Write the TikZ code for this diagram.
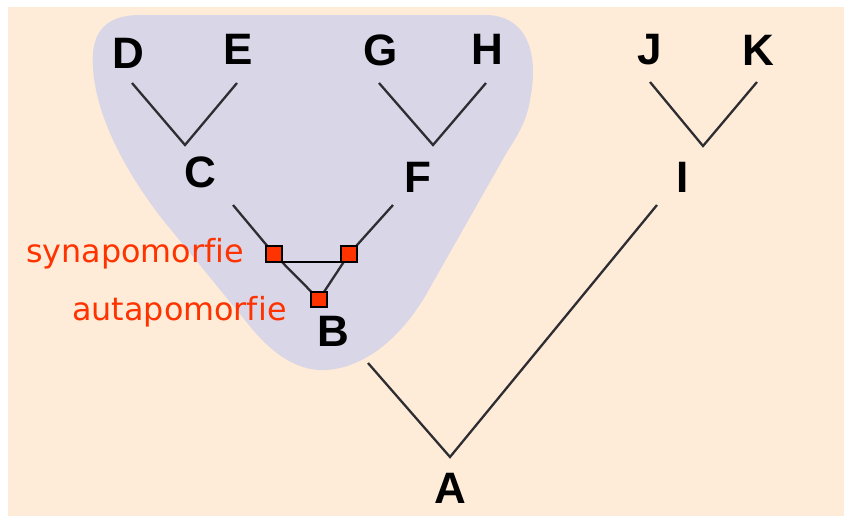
\documentclass[tikz,border=0pt]{standalone}
\usepackage{fontspec}
\setmainfont{Liberation Sans}
\newfontfamily\labelfont[Ligatures=NoCommon]{DejaVu Sans}
\definecolor{paper}{RGB}{254,236,216}
\definecolor{clade}{RGB}{217,214,231}
\definecolor{trait}{RGB}{255,51,0}
\definecolor{branch}{RGB}{45,45,50}
\begin{document}
\begin{tikzpicture}[x=1pt,y=-1pt,
  taxon/.style={inner sep=0pt,font=\fontsize{44}{48}\selectfont\bfseries},
  edge/.style={draw=branch,line width=2.3pt},
  marker/.style={draw=black,line width=1.6pt,fill=trait,minimum size=15.5pt,inner sep=0pt},
  traitlabel/.style={inner sep=0pt,anchor=base west,text=trait,font=\labelfont\fontsize{31.8}{34}\selectfont}]
  \useasboundingbox (0,0) rectangle (844,515);
  % paper and the shaded clade
  \fill[white] (0,0) rectangle (844,515);
  \fill[paper] (8,7) rectangle (850,520);
  \fill[clade] (140,15) -- (485,15)
    .. controls (525,15) and (540,50) .. (530,100)
    .. controls (527,120) and (518,135) .. (507,152)
    -- (427,293)
    .. controls (400,340) and (360,372) .. (318,370)
    .. controls (292,368) and (270,350) .. (253,330)
    -- (163,220)
    .. controls (120,165) and (95,110) .. (93,67)
    .. controls (90,28) and (110,15) .. (140,15) -- cycle;

  % taxon labels
  \node[taxon] (D) at (128,53) {D};
  \node[taxon] (E) at (238,49) {E};
  \node[taxon] (G) at (381,50) {G};
  \node[taxon] (H) at (487,49) {H};
  \node[taxon] (C) at (200,172) {C};
  \node[taxon] (F) at (418,177) {F};
  \node[taxon] (B) at (333,331) {B};
  \node[taxon] (J) at (650,50) {J};
  \node[taxon] (K) at (758,50) {K};
  \node[taxon] (I) at (683,177) {I};
  \node[taxon] (A) at (450,488) {A};

  % branch ends and forks
  \coordinate (dC) at (132,83);  \coordinate (eC) at (237,83);  \coordinate (vC) at (185,145);
  \coordinate (gF) at (379,83);  \coordinate (hF) at (486,83);  \coordinate (vF) at (433,145);
  \coordinate (jI) at (650,82);  \coordinate (kI) at (757,82);  \coordinate (vI) at (703,146);
  \coordinate (cB) at (233,205); \coordinate (fB) at (393,205);
  \coordinate (bA) at (368,363); \coordinate (iA) at (657,205); \coordinate (vA) at (450,457);

  % character state markers and the bar joining the two shared ones
  \coordinate (m1) at (274,254);
  \coordinate (m2) at (349,254);
  \coordinate (m3) at (319,299.5);
  \coordinate (bar1) at (274,261.5);
  \coordinate (bar2) at (349,261.5);

  \draw[edge] (dC) -- (vC) -- (eC);
  \draw[edge] (gF) -- (vF) -- (hF);
  \draw[edge] (jI) -- (vI) -- (kI);
  \draw[edge] (bA) -- (vA) -- (iA);
  \draw[edge] (cB) -- (m1) -- (m3);
  \draw[edge] (fB) -- (m2) -- (m3);
  \draw[black,line width=2pt] (bar1) -- (bar2);

  \node[marker] (s1) at (m1) {};
  \node[marker] (s2) at (m2) {};
  \node[marker] (s3) at (m3) {};

  \node[traitlabel] (syn) at (26,262) {synapomorfie};
  \node[traitlabel] (aut) at (72,320) {autapomorfie};
\end{tikzpicture}
\end{document}
